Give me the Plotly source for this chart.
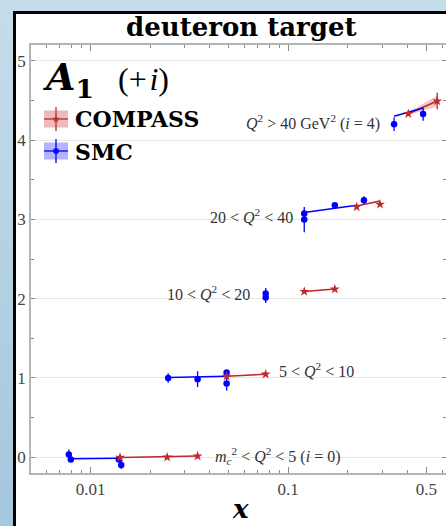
import numpy as np
import plotly.graph_objects as go

# ---- data: A1 for deuteron, shifted by +i per Q^2 bin ----
bin_labels = [
    "<i>m</i><sub><i>c</i></sub><sup>2</sup> < <i>Q</i><sup>2</sup> < 5 (<i>i</i> = 0)",
    "5 < <i>Q</i><sup>2</sup> < 10",
    "10 < <i>Q</i><sup>2</sup> < 20",
    "20 < <i>Q</i><sup>2</sup> < 40",
    "<i>Q</i><sup>2</sup> > 40 GeV<sup>2</sup> (<i>i</i> = 4)",
]

compass_bin = [0, 0, 0, 1, 1, 2, 2, 3, 3, 4, 4]
compass_x = [0.0141, 0.0244, 0.0348, 0.0488, 0.0769, 0.1205, 0.172, 0.222, 0.291, 0.405, 0.567]
compass_a1 = [-0.003, 0.0, 0.013, 0.02, 0.047, 0.09, 0.12, 0.157, 0.19, 0.334, 0.493]
compass_err = [0.02, 0.02, 0.02, 0.02, 0.02, 0.02, 0.02, 0.02, 0.02, 0.03, 0.105]

smc_bin = [0, 0, 0, 0, 1, 1, 1, 1, 2, 2, 3, 3, 3, 3, 4, 4]
smc_x = [0.00777, 0.00795, 0.0139, 0.0143, 0.0247, 0.0348, 0.0488, 0.0488,
         0.0769, 0.0769, 0.1205, 0.1205, 0.172, 0.2415, 0.343, 0.481]
smc_a1 = [0.034, -0.029, -0.029, -0.10, 0.0, -0.016, 0.068, -0.07,
          0.064, 0.014, 0.073, -0.003, 0.178, 0.241, 0.20, 0.33]
smc_err = [0.063, 0.02, 0.02, 0.05, 0.06, 0.10, 0.03, 0.09,
           0.07, 0.07, 0.05, 0.16, 0.03, 0.05, 0.085, 0.085]

# fitted trends per bin (end points)
smc_fit_bin = [0, 1, 3, 4]
smc_fit_x = [[0.00795, 0.0139], [0.0247, 0.0488], [0.1205, 0.222], [0.343, 0.481]]
smc_fit_a1 = [[-0.02, -0.013], [0.005, 0.02], [0.086, 0.178], [0.30, 0.405]]

compass_fit_bin = [0, 1, 2, 3, 4]
compass_fit_x = [[0.0141, 0.0348], [0.0488, 0.0769], [0.1205, 0.172], [0.222, 0.291], [0.405, 0.567]]
compass_fit_a1 = [[-0.004, 0.013], [0.02, 0.047], [0.09, 0.12], [0.17, 0.232], [0.333, 0.493]]
compass_fit_band = [[0.004, 0.006], [0.004, 0.006], [0.004, 0.006], [0.005, 0.01], [0.015, 0.07]]

RED = "#c0282d"
BLUE = "#0000ff"
SERIF = "Liberation Serif"
BOLD_SERIF = "DejaVu Serif"

W, H = 446, 526
L, R, T, B = 31, 446, 45, 473  # plot area in pixels
FRAME_X, FRAME_Y = 14.5, 12.5  # black frame edges


def px(x):
    return (x - L) / (R - L)


def py(y):
    return (B - y) / (B - T)


fig = go.Figure()

# COMPASS trend lines with uncertainty bands
for b, xs, ys, bw in zip(compass_fit_bin, compass_fit_x, compass_fit_a1, compass_fit_band):
    yy = np.array(ys) + b
    hw = np.array(bw)
    fig.add_trace(go.Scatter(
        x=list(xs) + list(xs[::-1]),
        y=list(yy + hw) + list((yy - hw)[::-1]),
        fill="toself", fillcolor="rgba(200,50,50,0.28)", line=dict(width=0),
        mode="lines", hoverinfo="skip", showlegend=False))
    fig.add_trace(go.Scatter(x=xs, y=yy, mode="lines",
                             line=dict(color=RED, width=1.5), showlegend=False))

# SMC trend lines
for b, xs, ys in zip(smc_fit_bin, smc_fit_x, smc_fit_a1):
    yy = np.array(ys) + b
    fig.add_trace(go.Scatter(x=xs, y=yy, mode="lines",
                             line=dict(color=BLUE, width=1.5), showlegend=False))

# data points
fig.add_trace(go.Scatter(
    x=smc_x, y=np.array(smc_a1) + np.array(smc_bin), mode="markers",
    marker=dict(symbol="circle", size=6.5, color=BLUE),
    error_y=dict(type="data", array=smc_err, color=BLUE, thickness=1.3, width=0),
    showlegend=False))
fig.add_trace(go.Scatter(
    x=compass_x, y=np.array(compass_a1) + np.array(compass_bin), mode="markers",
    marker=dict(symbol="star", size=7.5, color=RED),
    error_y=dict(type="data", array=compass_err, color=RED, thickness=1.3, width=0),
    showlegend=False))

# legend glyphs on an overlay in pixel space
fig.add_trace(go.Scatter(x=[56], y=[119], mode="markers", xaxis="x2", yaxis="y2",
                         marker=dict(symbol="star", size=6, color=RED), showlegend=False))
fig.add_trace(go.Scatter(x=[56], y=[151], mode="markers", xaxis="x2", yaxis="y2",
                         marker=dict(symbol="circle", size=6, color=BLUE), showlegend=False))

shapes = []
# page background gradient, visible in the left and top strips around the frame
n_band = 26
top_c = np.array([197, 221, 235])
bot_c = np.array([164, 200, 222])
for k in range(n_band):
    c = top_c + (bot_c - top_c) * k / (n_band - 1)
    col = "rgb(%d,%d,%d)" % tuple(c.astype(int))
    y0p = k * H / n_band
    y1p = (k + 1) * H / n_band + 1
    shapes.append(dict(type="rect", xref="paper", yref="paper", layer="below",
                       x0=px(-1), x1=px(FRAME_X), y0=py(y1p), y1=py(y0p),
                       fillcolor=col, line=dict(width=0)))
shapes.append(dict(type="rect", xref="paper", yref="paper", layer="below",
                   x0=px(-1), x1=px(W + 1), y0=py(FRAME_Y), y1=py(-1),
                   fillcolor="rgb(%d,%d,%d)" % tuple(top_c), line=dict(width=0)))
# black frame: left and top edges
shapes.append(dict(type="line", xref="paper", yref="paper", layer="below",
                   x0=px(FRAME_X), x1=px(FRAME_X), y0=py(H + 2), y1=py(FRAME_Y - 1.5),
                   line=dict(color="black", width=3)))
shapes.append(dict(type="line", xref="paper", yref="paper", layer="below",
                   x0=px(FRAME_X - 1.5), x1=px(W + 2), y0=py(FRAME_Y), y1=py(FRAME_Y),
                   line=dict(color="black", width=3)))

# legend boxes
for (yc, fc, lc) in [(119, "rgba(200,60,60,0.35)", RED), (151, "rgba(70,70,255,0.40)", BLUE)]:
    shapes.append(dict(type="rect", xref="paper", yref="paper",
                       x0=px(44), x1=px(68), y0=py(yc + 8.5), y1=py(yc - 8.5),
                       fillcolor=fc, line=dict(width=0)))
    shapes.append(dict(type="line", xref="paper", yref="paper",
                       x0=px(44), x1=px(68), y0=py(yc), y1=py(yc),
                       line=dict(color=lc, width=1.3)))
    shapes.append(dict(type="line", xref="paper", yref="paper",
                       x0=px(56), x1=px(56), y0=py(yc + 12), y1=py(yc - 12),
                       line=dict(color=lc, width=1.3)))

annotations = [
    dict(text="<b>deuteron target</b>", xref="paper", yref="paper",
         x=px(241), y=py(27), xanchor="center", yanchor="middle", showarrow=False,
         font=dict(family=BOLD_SERIF, size=26, color="black")),
    dict(text="<b><i>A</i><sub>1</sub></b>", xref="paper", yref="paper",
         x=px(41), y=py(79), xanchor="left", yanchor="middle", showarrow=False,
         font=dict(family=BOLD_SERIF, size=38, color="black")),
    dict(text="(+\u200a<i>i</i>)", xref="paper", yref="paper",
         x=px(116), y=py(79), xanchor="left", yanchor="middle", showarrow=False,
         font=dict(family=SERIF, size=32, color="black")),
    dict(text="<b>COMPASS</b>", xref="paper", yref="paper",
         x=px(73), y=py(119), xanchor="left", yanchor="middle", showarrow=False,
         font=dict(family=BOLD_SERIF, size=22, color="black")),
    dict(text="<b>SMC</b>", xref="paper", yref="paper",
         x=px(73), y=py(152), xanchor="left", yanchor="middle", showarrow=False,
         font=dict(family=BOLD_SERIF, size=22, color="black")),
    dict(text="<b><i>x</i></b>", xref="paper", yref="paper",
         x=px(241), y=py(509), xanchor="center", yanchor="middle", showarrow=False,
         font=dict(family=BOLD_SERIF, size=26, color="black")),
]

# bin labels placed beside each group of points
label_pos = [
    (0.0416, 0.013, "left"),
    (0.0877, 1.097, "left"),
    (0.0655, 2.07, "right"),
    (0.108, 3.04, "right"),
    (0.298, 4.224, "right"),
]
for txt, (lx, ly, anc) in zip(bin_labels, label_pos):
    annotations.append(dict(text=txt, x=np.log10(lx), y=ly, xref="x", yref="y",
                            xanchor=anc, yanchor="middle", showarrow=False,
                            font=dict(family=SERIF, size=16, color="#333333")))

x_minor = [0.006, 0.007, 0.008, 0.009, 0.02, 0.03, 0.04, 0.05, 0.06, 0.07, 0.08, 0.09,
           0.2, 0.3, 0.4, 0.6]

fig.update_layout(
    width=W, height=H,
    margin=dict(l=L, r=W - R, t=T, b=H - B, autoexpand=False),
    paper_bgcolor="white",
    plot_bgcolor="white",
    shapes=shapes,
    annotations=annotations,
    showlegend=False,
    xaxis=dict(
        type="log", range=[np.log10(0.005), np.log10(0.628)],
        tickvals=[0.01, 0.1, 0.5], ticktext=["0.01", "0.1", "0.5"],
        ticks="inside", ticklen=6, tickwidth=1, tickcolor="#888888",
        minor=dict(tickvals=x_minor, ticks="inside", ticklen=3.5, tickcolor="#888888", showgrid=False),
        showline=True, linecolor="#b5b5b5", linewidth=1.5, mirror="allticks",
        showgrid=False, zeroline=False, automargin=False,
        tickfont=dict(family=SERIF, size=17, color="#444444"),
    ),
    yaxis=dict(
        range=[-0.2, 5.2], tickvals=[0, 1, 2, 3, 4, 5],
        ticks="inside", ticklen=4, tickwidth=1, tickcolor="#888888",
        minor=dict(dtick=0.5, ticks="inside", ticklen=3, tickcolor="#888888", showgrid=False),
        showline=True, linecolor="#b5b5b5", linewidth=1.5, mirror="allticks",
        showgrid=True, gridcolor="#e6e6e6", gridwidth=1, zeroline=False, automargin=False,
        tickfont=dict(family=SERIF, size=17, color="#444444"),
    ),
    xaxis2=dict(overlaying="x", range=[L, R], visible=False, fixedrange=True),
    yaxis2=dict(overlaying="y", range=[B, T], visible=False, fixedrange=True),
)

fig.write_html(
    "out.html",
    post_script="document.documentElement.style.overflow='hidden';"
                "document.body.style.overflow='hidden';document.body.style.margin='0';",
)
